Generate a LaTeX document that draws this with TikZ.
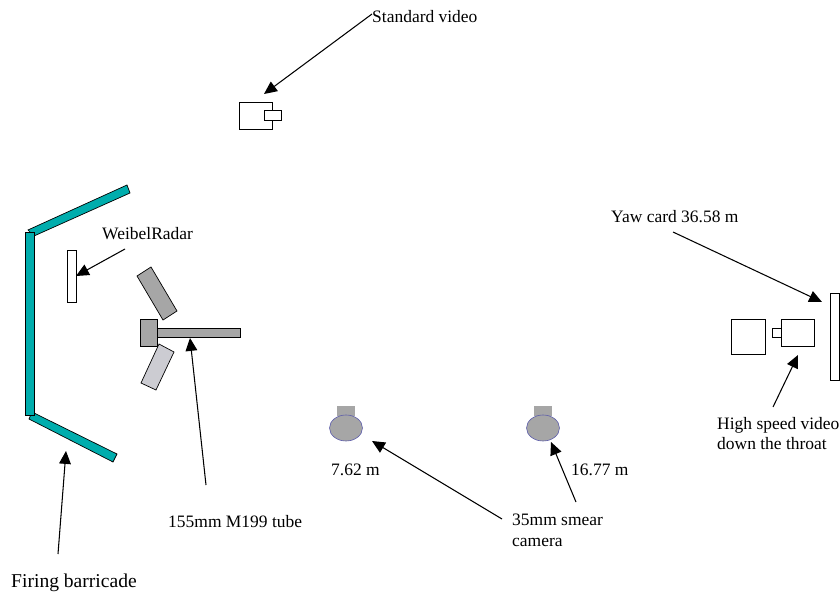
\documentclass[tikz,border=0pt]{standalone}
\usepackage{fontspec}
\setmainfont{Liberation Serif}
\usetikzlibrary{arrows.meta}
\definecolor{barrier}{HTML}{00ADAD}
\definecolor{gunmetal}{HTML}{A6A6A6}
\definecolor{pale}{HTML}{CCCCD2}
\definecolor{lens}{HTML}{5A5AAA}
\tikzset{
  lbl/.style={font=\fontsize{14.9pt}{17.6pt}\selectfont,inner sep=0pt,align=left},
  part/.style={draw=black,line width=0.6pt},
  box/.style={part,fill=white},
  pointer/.style={-{Triangle[length=11pt,width=10pt]},line width=0.9pt}
}
\begin{document}
\begin{tikzpicture}[x=0.03cm,y=-0.03cm]
\useasboundingbox (0,0) rectangle (840,595);
% firing barricade
\draw[part,fill=barrier] (28,230) -- (127,185) -- (130,193) -- (34,236) -- cycle;
\draw[part,fill=barrier] (32,412) -- (117,454) -- (113,462) -- (29,419) -- cycle;
\draw[part,fill=barrier] (25,232) rectangle (34,415);
% radar
\draw[box] (67,250) rectangle (76,302);
% gun
\draw[part,fill=gunmetal] (137,276) -- (151,267) -- (177,311) -- (163,320) -- cycle;
\draw[part,fill=pale] (159,344) -- (174,352) -- (156,390) -- (141,383) -- cycle;
\draw[part,fill=gunmetal] (157,328) rectangle (240,337);
\draw[part,fill=gunmetal] (140,319) rectangle (157.5,346);
% standard video
\draw[box] (239,102) rectangle (272,129);
\draw[box] (264,110) rectangle (281,120);
% smear cameras
\fill[gunmetal] (337,406) rectangle (355,416);
\draw[draw=lens,fill=gunmetal,line width=0.5pt] (346,428) ellipse (16.5 and 13);
\fill[gunmetal] (534,406) rectangle (552,416);
\draw[draw=lens,fill=gunmetal,line width=0.5pt] (543,428) ellipse (16.5 and 13);
% down the throat
\draw[box] (731,319) rectangle (765,354);
\draw[box] (772,328) rectangle (781,337);
\draw[box] (781,319) rectangle (814,346);
\draw[box] (830,293) rectangle (839,380);
% labels
\node[lbl,anchor=west] (video) at (372,17) {Standard video};
\node[lbl,anchor=west] (radar) at (102,234) {WeibelRadar};
\node[lbl,anchor=west] (yaw) at (611,217) {Yaw card 36.58 m};
\node[lbl,anchor=west] (tube) at (168,522) {155mm M199 tube};
\node[lbl,anchor=west] (near) at (331,470) {7.62 m};
\node[lbl,anchor=west] (far) at (571,470) {16.77 m};
\node[lbl,anchor=north west] (smear) at (512,514) {35mm smear\\camera};
\node[lbl,anchor=north west] (throat) at (717,417) {High speed video\\down the throat};
\node[lbl,anchor=west,font=\fontsize{16.7pt}{20pt}\selectfont] (barricade) at (11,583) {Firing barricade};
% arrow ends
\coordinate (videotail) at (372,14);
\coordinate (videotip) at (264,94);
\coordinate (radartail) at (125,249);
\coordinate (radartip) at (76,276);
\coordinate (yawtail) at (673,232);
\coordinate (yawtip) at (822,302);
\coordinate (tubetail) at (206,485);
\coordinate (tubetip) at (190,338);
\coordinate (smeartail) at (502,519);
\coordinate (neartip) at (372,441);
\coordinate (fartail) at (576,502);
\coordinate (fartip) at (551,442);
\coordinate (throattail) at (773,407);
\coordinate (throattip) at (798,355);
\coordinate (barrtail) at (58,554);
\coordinate (barrtip) at (66,451);
% arrows
\draw[pointer] (videotail) -- (videotip);
\draw[pointer] (radartail) -- (radartip);
\draw[pointer] (yawtail) -- (yawtip);
\draw[pointer] (tubetail) -- (tubetip);
\draw[pointer] (smeartail) -- (neartip);
\draw[pointer] (fartail) -- (fartip);
\draw[pointer] (throattail) -- (throattip);
\draw[pointer] (barrtail) -- (barrtip);
\end{tikzpicture}
\end{document}
